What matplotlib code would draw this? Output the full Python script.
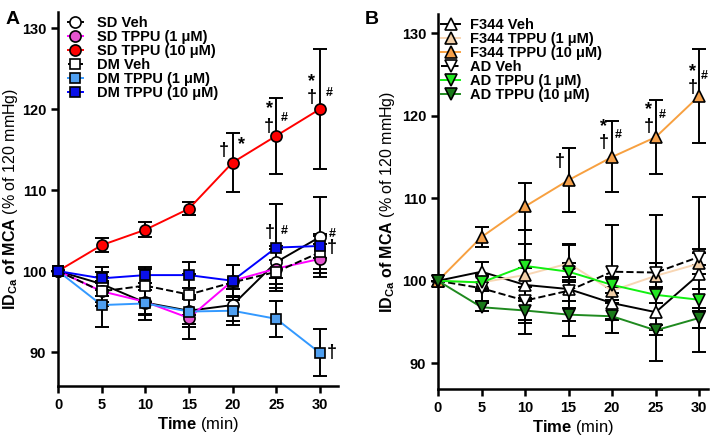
import matplotlib
matplotlib.use("Agg")
import matplotlib.pyplot as plt
import numpy as np

plt.rcParams["font.family"] = ["Liberation Sans", "DejaVu Sans"]
plt.rcParams["mathtext.fontset"] = "custom"
plt.rcParams["mathtext.rm"] = "Liberation Sans"
plt.rcParams["mathtext.bf"] = "Liberation Sans:bold"
plt.rcParams["mathtext.it"] = "Liberation Sans:italic"

time_min = [0, 5, 10, 15, 20, 25, 30]

# ---- panel A ----
sd_veh      = [100, 98.4, 96.1, 95.1, 95.8, 101.1, 104.2]
sd_veh_err  = [0, 1.5, 1.5, 2.0, 2.0, 2.0, 4.9]
sd_t1       = [100, 97.5, 96.2, 94.2, 98.8, 100.3, 101.5]
sd_t1_err   = [0, 1.3, 1.5, 2.6, 2.0, 2.4, 1.8]
sd_t10      = [100, 103.2, 105.1, 107.7, 113.4, 116.7, 120.0]
sd_t10_err  = [0, 0.9, 0.9, 0.8, 3.6, 4.7, 7.4]
dm_veh      = [100, 97.5, 98.2, 97.1, 98.6, 99.9, 102.3]
dm_veh_err  = [0, 1.8, 2.0, 2.5, 2.2, 1.5, 2.0]
dm_t1       = [100, 95.8, 96.0, 95.0, 95.1, 94.1, 89.9]
dm_t1_err   = [0, 2.7, 2.0, 1.5, 1.8, 2.2, 2.9]
dm_t10      = [100, 99.1, 99.5, 99.5, 98.8, 102.9, 103.1]
dm_t10_err  = [0, 1.4, 1.0, 1.6, 2.0, 5.4, 1.5]

# ---- panel B ----
f_veh       = [100, 101.1, 99.5, 99.0, 97.3, 96.2, 100.8]
f_veh_err   = [0, 1.2, 2.0, 1.5, 2.0, 5.9, 9.4]
f_t1        = [100, 99.8, 100.7, 102.1, 98.8, 100.6, 102.1]
f_t1_err    = [0, 1.0, 5.4, 2.3, 1.5, 1.5, 1.3]
f_t10       = [100, 105.3, 109.0, 112.2, 115.0, 117.4, 122.4]
f_t10_err   = [0, 1.2, 2.9, 3.9, 4.3, 4.5, 5.7]
ad_veh      = [100, 99.1, 97.6, 98.8, 101.1, 101.0, 102.9]
ad_veh_err  = [0, 1.5, 4.0, 5.5, 5.7, 7.0, 1.0]
ad_t1       = [100, 99.8, 101.8, 101.1, 99.5, 98.3, 97.7]
ad_t1_err   = [0, 0.8, 2.6, 1.0, 1.0, 1.0, 1.3]
ad_t10      = [100, 96.8, 96.4, 95.9, 95.7, 94.0, 95.5]
ad_t10_err  = [0, 0.5, 1.5, 0.8, 2.0, 0.6, 1.2]

# significance marks: (time, value, symbol)
marks_a = [(19.0, 114.9, "†"), (21.0, 115.6, "*"),
           (24.2, 120.1, "*"), (24.2, 117.9, "†"), (25.9, 118.9, "#"),
           (29.1, 123.4, "*"), (29.1, 121.4, "†"), (31.1, 122.0, "#"),
           (24.3, 104.8, "†"), (25.9, 105.0, "#"),
           (31.4, 104.6, "#"), (31.4, 102.9, "†"), (31.4, 89.9, "†")]
marks_b = [(14.0, 114.4, "†"),
           (19.0, 118.7, "*"), (19.0, 116.8, "†"), (20.7, 117.7, "#"),
           (24.2, 120.7, "*"), (24.2, 118.7, "†"), (25.7, 120.1, "#"),
           (29.2, 125.3, "*"), (29.2, 123.4, "†"), (30.6, 124.8, "#")]

fig = plt.figure(figsize=(7.2, 4.4), dpi=100)
ax_a = fig.add_axes([0.0806, 0.1227, 0.389, 0.85])
ax_b = fig.add_axes([0.6083, 0.116, 0.375, 0.852])


def draw(ax, y, err, marker, face, line, ls="-", ms=8, label=None):
    ax.errorbar(time_min, y, yerr=err, fmt="none", ecolor="black",
                elinewidth=1.4, capsize=5, capthick=1.4, zorder=2, clip_on=False)
    ax.plot(time_min, y, color=line, ls=ls, lw=1.4, marker=marker, ms=ms,
            mfc=face, mec="black", mew=1.2, zorder=3, clip_on=False, label=label)


draw(ax_a, sd_veh, sd_veh_err, "o", "white", "black", label="SD Veh")
draw(ax_a, sd_t1, sd_t1_err, "o", "#e555d0", "#ff00ff", label="SD TPPU (1 μM)")
draw(ax_a, sd_t10, sd_t10_err, "o", "#ff0000", "#ff0000", label="SD TPPU (10 μM)")
draw(ax_a, dm_veh, dm_veh_err, "s", "white", "black", ls="--", ms=7, label="DM Veh")
draw(ax_a, dm_t1, dm_t1_err, "s", "#4f9ff0", "#3399ff", ms=7, label="DM TPPU (1 μM)")
draw(ax_a, dm_t10, dm_t10_err, "s", "#0a10e8", "#0000ff", ms=7, label="DM TPPU (10 μM)")

draw(ax_b, f_veh, f_veh_err, "^", "white", "black", ms=9, label="F344 Veh")
draw(ax_b, f_t1, f_t1_err, "^", "#f2cfa8", "#f8d6b4", ms=9, label="F344 TPPU (1 μM)")
draw(ax_b, f_t10, f_t10_err, "^", "#f5a04a", "#f7a040", ms=9, label="F344 TPPU (10 μM)")
draw(ax_b, ad_veh, ad_veh_err, "v", "white", "black", ls="--", ms=9, label="AD Veh")
draw(ax_b, ad_t1, ad_t1_err, "v", "#22e622", "#11f011", ms=9, label="AD TPPU (1 μM)")
draw(ax_b, ad_t10, ad_t10_err, "v", "#1a7a1a", "#1f8a1f", ms=9, label="AD TPPU (10 μM)")

panels = [(ax_a, marks_a, (85.8, 132), (0, 32.1), 0.036, 1.0, 1.0, -0.137),
          (ax_b, marks_b, (86.9, 132.3), (0, 31.0), 0.012, 1.3, 0.7, -0.152)]
for ax, marks, ylim, xlim, leg_x, hlen, hpad, ylab_x in panels:
    ax.set_xlim(*xlim)
    ax.set_ylim(*ylim)
    ax.set_xticks(time_min)
    ax.set_yticks([90, 100, 110, 120, 130])
    for s in ("top", "right"):
        ax.spines[s].set_visible(False)
    for s in ("left", "bottom"):
        ax.spines[s].set_linewidth(1.8)
    ax.tick_params(width=1.8, length=5, labelsize=10.5)
    for t in ax.get_xticklabels() + ax.get_yticklabels():
        t.set_fontweight("bold")
    ax.set_xlabel(r"$\bf{Time}$ (min)", fontsize=12, labelpad=2)
    ax.set_ylabel(r"$\bf{ID_{Ca}\ of\ MCA}$ (% of 120 mmHg)", fontsize=11.5)
    ax.yaxis.set_label_coords(ylab_x, 0.5)
    for x, y, s in marks:
        size = 9 if s == "#" else 13
        ax.text(x, y, s, ha="center", va="center", fontsize=size,
                fontweight="bold", clip_on=False, zorder=5)
    ax.legend(loc="upper left", bbox_to_anchor=(leg_x, 0.99), frameon=False,
              handlelength=hlen, handletextpad=hpad, labelspacing=0.0,
              borderpad=0, borderaxespad=0, prop={"weight": "bold", "size": 10.5})

fig.text(0.007, 0.975, "A", fontsize=14, fontweight="bold", va="top")
fig.text(0.507, 0.975, "B", fontsize=14, fontweight="bold", va="top")

fig.savefig("out.png", dpi=100)
